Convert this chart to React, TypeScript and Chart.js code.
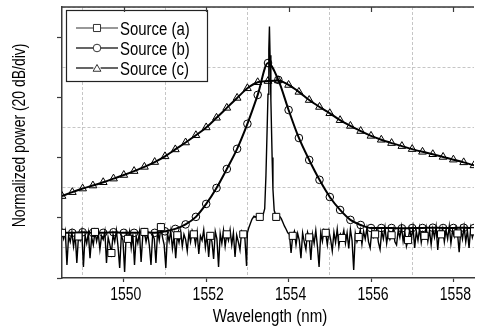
import React, { useEffect, useRef } from 'react';
import { Chart, registerables } from 'chart.js';

Chart.register(...registerables);

// ---------- axes ----------
const X_MIN = 1548.5;
const X_MAX = 1558.5;
const X_TICKS = [1549, 1550, 1551, 1552, 1553, 1554, 1555, 1556, 1557, 1558];
const X_TICK_LABELS = [1550, 1552, 1554, 1556, 1558];
const Y_MIN = 0; // divisions (20 dB/div)
const Y_MAX = 9;
const X_TITLE = 'Wavelength (nm)';
const Y_TITLE = 'Normalized power (20 dB/div)';

const SOURCE_LABELS = ['Source (a)', 'Source (b)', 'Source (c)'];

// ---------- Source (a): measured spectrum ----------
// left part, sampled every 0.04 nm from 1548.50 nm
const A_STEP = 0.04;
const A_LEFT_START = 1548.5;
const A_LEFT = [
  1.50, 1.30, 1.55, 0.43, 1.40, 1.20, 1.52, 1.05, 1.45, 0.50,
  1.38, 1.25, 1.55, 0.37, 1.42, 1.15, 1.50, 0.66, 1.35, 1.10,
  1.53, 1.22, 1.48, 0.95, 1.40, 1.28, 1.55, 0.50, 1.35, 1.12,
  0.83, 1.45, 1.20, 1.58, 1.05, 0.33, 1.42, 1.25, 0.20, 1.50,
  1.30, 1.55, 1.00, 1.45, 0.43, 1.38, 1.15, 1.52, 0.53, 1.40,
  1.53, 1.20, 1.48, 1.08, 0.43, 1.45, 1.30, 0.50, 1.55, 1.25,
  1.69, 1.35, 1.10, 0.33, 1.48, 1.22, 1.57, 0.98, 1.40, 0.66,
  1.42, 1.18, 1.55, 1.05, 1.45, 1.28, 0.90, 1.50, 1.20, 1.58,
  1.45, 1.12, 1.52, 0.80, 1.40, 1.25, 1.60, 1.02, 1.45, 0.70,
  1.40, 1.20, 0.63, 1.55, 1.30, 0.37, 1.48, 1.15, 1.58, 1.05,
  1.45, 1.25, 1.60, 1.10, 1.50, 0.70, 1.42, 1.20, 0.93, 1.55,
  1.45, 1.30, 0.40,
];
// laser line and pedestal
const A_PEAK_WL = [
  1553.0, 1553.03, 1553.07, 1553.11, 1553.16, 1553.2, 1553.24, 1553.3, 1553.34, 1553.38,
  1553.42, 1553.45, 1553.48, 1553.5, 1553.52, 1553.535, 1553.55, 1553.57, 1553.6, 1553.62,
  1553.65, 1553.7, 1553.74, 1553.78, 1553.82, 1553.86, 1553.9, 1553.94, 1553.98,
];
const A_PEAK = [
  1.50, 1.65, 1.80, 1.95, 2.05, 2.02, 2.08, 2.03, 2.06, 2.09,
  2.30, 3.40, 5.00, 6.10, 7.60, 8.35, 7.40, 5.90, 4.00, 2.95,
  2.25, 2.03, 2.08, 2.05, 1.98, 1.85, 1.72, 1.62, 1.50,
];
// right part, sampled every 0.04 nm from 1554.02 nm
const A_RIGHT_START = 1554.02;
const A_RIGHT = [
  1.45, 0.83, 1.40, 1.55, 1.10, 1.48, 1.25, 0.66, 1.50, 1.20,
  0.95, 1.52, 1.35, 0.60, 1.45, 1.15, 1.58, 1.05, 0.37, 1.50,
  1.22, 1.60, 1.50, 1.10, 1.55, 1.28, 0.90, 1.52, 1.18, 1.62,
  1.05, 1.45, 1.33, 1.58, 1.15, 1.50, 0.98, 1.62, 1.25, 0.27,
  1.48, 1.20, 1.36, 1.60, 1.12, 1.55, 1.30, 1.65, 1.20, 1.00,
  1.58, 1.35, 1.45, 1.62, 1.18, 0.95, 1.55, 1.30, 1.68, 1.15,
  1.52, 1.28, 1.42, 1.62, 1.20, 1.10, 1.58, 1.35, 1.70, 1.22,
  1.55, 1.05, 1.26, 1.60, 1.32, 1.68, 1.00, 1.55, 1.25, 1.65,
  1.18, 1.52, 1.40, 1.68, 1.22, 1.58, 1.10, 1.62, 1.35, 1.70,
  0.93, 1.55, 1.45, 1.65, 1.20, 1.60, 1.30, 1.72, 1.15, 1.58,
  1.38, 1.68, 1.48, 0.86, 1.62, 1.30, 1.70, 1.20, 1.58, 1.00,
  1.65, 1.35, 1.55,
];
const A_MARK_START = 1548.5;
const A_MARK_STEP = 0.4;

// ---------- Sources (b) and (c): sampled every 0.25 nm ----------
const BC_WL = [
  1548.5, 1548.75, 1549.0, 1549.25, 1549.5, 1549.75, 1550.0, 1550.25, 1550.5, 1550.75,
  1551.0, 1551.25, 1551.5, 1551.75, 1552.0, 1552.25, 1552.5, 1552.75, 1553.0, 1553.25,
  1553.5, 1553.75, 1554.0, 1554.25, 1554.5, 1554.75, 1555.0, 1555.25, 1555.5, 1555.75,
  1556.0, 1556.25, 1556.5, 1556.75, 1557.0, 1557.25, 1557.5, 1557.75, 1558.0, 1558.25,
  1558.5,
];
const B_POW = [
  1.50, 1.50, 1.52, 1.50, 1.50, 1.52, 1.50, 1.50, 1.52, 1.50,
  1.55, 1.63, 1.78, 2.03, 2.46, 2.99, 3.62, 4.29, 5.12, 6.08,
  7.14, 6.58, 5.58, 4.65, 3.92, 3.26, 2.69, 2.26, 1.93, 1.76,
  1.66, 1.66, 1.66, 1.65, 1.66, 1.66, 1.67, 1.66, 1.66, 1.67,
  1.66,
];
const C_POW = [
  2.72, 2.85, 2.97, 3.07, 3.18, 3.30, 3.42, 3.55, 3.69, 3.85,
  4.04, 4.27, 4.50, 4.74, 5.00, 5.32, 5.65, 5.98, 6.30, 6.50,
  6.54, 6.56, 6.41, 6.18, 5.91, 5.68, 5.47, 5.24, 5.05, 4.88,
  4.72, 4.59, 4.48, 4.38, 4.28, 4.19, 4.11, 4.02, 3.93, 3.84,
  3.74,
];

// ---------- build point tables ----------
const round = (v: number) => Math.round(v * 1000) / 1000;
const aPoints = [
  ...A_LEFT.map((y, i) => ({ x: round(A_LEFT_START + i * A_STEP), y })),
  ...A_PEAK.map((y, i) => ({ x: A_PEAK_WL[i], y })),
  ...A_RIGHT.map((y, i) => ({ x: round(A_RIGHT_START + i * A_STEP), y })),
];
const bPoints = B_POW.map((y, i) => ({ x: BC_WL[i], y }));
const cPoints = C_POW.map((y, i) => ({ x: BC_WL[i], y }));

// ---------- style ----------
const FONT_FAMILY = "'Liberation Sans', Arial, sans-serif";
const FONT_SIZE = 18;
const GRID_COLOR = '#c6c6c6';
const AXIS_COLOR = '#3a3a3a';

const isOdd = (v: number) => Number.isInteger(round(v)) && Math.abs(Math.round(v)) % 2 === 1;
const isEven = (v: number) => Number.isInteger(round(v)) && Math.abs(Math.round(v)) % 2 === 0;
const isMarker = (x: number) => {
  const k = (x - A_MARK_START) / A_MARK_STEP;
  return Math.abs(k - Math.round(k)) < 1e-4;
};

// condensed lettering of the original figure
function drawText(
  ctx: CanvasRenderingContext2D,
  text: string,
  x: number,
  y: number,
  align: CanvasTextAlign,
  scaleX: number,
  rotation = 0,
) {
  ctx.save();
  ctx.translate(x, y);
  if (rotation) ctx.rotate(rotation);
  ctx.scale(scaleX, 1);
  ctx.font = `${FONT_SIZE}px ${FONT_FAMILY}`;
  ctx.fillStyle = '#000';
  ctx.textAlign = align;
  ctx.textBaseline = 'alphabetic';
  ctx.fillText(text, 0, 0);
  ctx.restore();
}

function drawMarker(ctx: CanvasRenderingContext2D, style: string, x: number, y: number, r: number) {
  ctx.beginPath();
  if (style === 'rect') {
    const s = Math.SQRT1_2 * r;
    ctx.rect(x - s, y - s, 2 * s, 2 * s);
  } else if (style === 'circle') {
    ctx.arc(x, y, r, 0, Math.PI * 2);
  } else {
    ctx.moveTo(x, y - r);
    ctx.lineTo(x + Math.sin((2 * Math.PI) / 3) * r, y + r / 2);
    ctx.lineTo(x - Math.sin((2 * Math.PI) / 3) * r, y + r / 2);
    ctx.closePath();
  }
  ctx.fill();
  ctx.stroke();
}

const textPlugin = {
  id: 'axisText',
  afterDraw(chart: any) {
    const ctx: CanvasRenderingContext2D = chart.ctx;
    const xs = chart.scales.x;
    const { left, right, top, bottom } = chart.chartArea;
    X_TICK_LABELS.forEach((v) => {
      drawText(ctx, String(v), xs.getPixelForValue(v) + 2, bottom + 21.5, 'center', 0.78);
    });
    drawText(ctx, X_TITLE, (left + right) / 2 + 2, bottom + 43.5, 'center', 0.84);
    drawText(ctx, Y_TITLE, 25, (top + bottom) / 2 - 7, 'center', 0.775, -Math.PI / 2);
  },
};

const legendPlugin = {
  id: 'boxLegend',
  afterDatasetsDraw(chart: any) {
    const ctx: CanvasRenderingContext2D = chart.ctx;
    const { left, top } = chart.chartArea;
    const x0 = left + 4;
    const y0 = top + 3;
    const w = 141;
    const h = 71;
    ctx.save();
    ctx.fillStyle = '#ffffff';
    ctx.fillRect(x0, y0, w, h);
    ctx.strokeStyle = '#222';
    ctx.lineWidth = 1.2;
    ctx.strokeRect(x0 + 0.5, y0 + 0.5, w, h);
    chart.data.datasets.forEach((ds: any, i: number) => {
      const cy = y0 + 18 + i * 20;
      const r = ds.legendRadius;
      ctx.strokeStyle = '#333';
      ctx.lineWidth = ds.legendLineWidth;
      ctx.beginPath();
      ctx.moveTo(x0 + 10, cy);
      ctx.lineTo(x0 + 31 - r * 0.8, cy);
      ctx.moveTo(x0 + 31 + r * 0.8, cy);
      ctx.lineTo(x0 + 52, cy);
      ctx.stroke();
      ctx.lineWidth = 1;
      ctx.fillStyle = '#fff';
      drawMarker(ctx, ds.pointStyle, x0 + 31, cy + (ds.pointStyle === 'triangle' ? 1 : 0), r);
      drawText(ctx, ds.label, x0 + 54, cy + 7, 'left', 0.83);
    });
    ctx.restore();
  },
};

const framePlugin = {
  id: 'frame',
  afterDraw(chart: any) {
    const ctx: CanvasRenderingContext2D = chart.ctx;
    const { left, right, top } = chart.chartArea;
    const xs = chart.scales.x;
    ctx.save();
    ctx.strokeStyle = AXIS_COLOR;
    ctx.lineWidth = 1.5;
    ctx.beginPath();
    ctx.moveTo(left, top);
    ctx.lineTo(right, top);
    ctx.stroke();
    ctx.lineWidth = 1.2;
    ctx.beginPath();
    X_TICK_LABELS.forEach((v) => {
      const px = Math.round(xs.getPixelForValue(v)) + 0.5;
      ctx.moveTo(px, top);
      ctx.lineTo(px, top + 5);
    });
    ctx.stroke();
    ctx.restore();
  },
};

export default function App() {
  const ref = useRef<HTMLCanvasElement>(null);
  useEffect(() => {
    document.body.style.margin = '0';
    const chart = new Chart(ref.current as HTMLCanvasElement, {
      type: 'line',
      data: {
        datasets: [
          {
            label: SOURCE_LABELS[0],
            data: aPoints,
            borderColor: '#000',
            borderWidth: 1.4,
            tension: 0,
            pointStyle: 'rect',
            pointRadius: (c: any) => (c.raw && isMarker(c.raw.x) ? 5 : 0),
            pointBorderWidth: 1,
            pointBorderColor: '#000',
            pointBackgroundColor: '#fff',
            legendRadius: 5,
            legendLineWidth: 1.2,
          } as any,
          {
            label: SOURCE_LABELS[1],
            data: bPoints,
            borderColor: '#000',
            borderWidth: 2,
            cubicInterpolationMode: 'monotone',
            pointStyle: 'circle',
            pointRadius: 3.8,
            pointBorderWidth: 1,
            pointBorderColor: '#000',
            pointBackgroundColor: 'rgba(255,255,255,0)',
            legendRadius: 3.8,
            legendLineWidth: 1.6,
          } as any,
          {
            label: SOURCE_LABELS[2],
            data: cPoints,
            borderColor: '#000',
            borderWidth: 2,
            cubicInterpolationMode: 'monotone',
            pointStyle: 'triangle',
            pointRadius: 4.5,
            pointBorderWidth: 1,
            pointBorderColor: '#000',
            pointBackgroundColor: 'rgba(255,255,255,0)',
            legendRadius: 4.5,
            legendLineWidth: 1.6,
          } as any,
        ],
      },
      options: {
        animation: false,
        responsive: false,
        maintainAspectRatio: false,
        parsing: false as any,
        layout: { padding: { top: 7, right: 0, left: 0, bottom: 0 } },
        plugins: {
          legend: { display: false },
          tooltip: { enabled: false },
        },
        scales: {
          x: {
            type: 'linear',
            min: X_MIN,
            max: X_MAX,
            afterBuildTicks: (s: any) => {
              s.ticks = X_TICKS.map((value) => ({ value }));
            },
            ticks: { display: false, autoSkip: false },
            grid: {
              color: (c: any) => (c.tick && isOdd(c.tick.value) ? GRID_COLOR : 'rgba(0,0,0,0)'),
              lineWidth: 1,
              tickLength: 4,
              tickWidth: 1.2,
              tickColor: (c: any) => (c.tick && isEven(c.tick.value) ? AXIS_COLOR : 'rgba(0,0,0,0)'),
            },
            border: { display: true, color: AXIS_COLOR, width: 1.5, dash: [3, 2] },
            afterFit: (s: any) => {
              s.height = 54;
            },
          },
          y: {
            type: 'linear',
            min: Y_MIN,
            max: Y_MAX,
            ticks: { stepSize: 1, display: false },
            grid: {
              color: (c: any) => (c.tick && isOdd(c.tick.value) ? GRID_COLOR : 'rgba(0,0,0,0)'),
              lineWidth: 1,
              tickLength: 5,
              tickWidth: 1.2,
              tickColor: (c: any) => (c.tick && isEven(c.tick.value) ? AXIS_COLOR : 'rgba(0,0,0,0)'),
            },
            border: { display: true, color: AXIS_COLOR, width: 1.5, dash: [3, 2] },
            afterFit: (s: any) => {
              s.width = 62;
            },
          },
        },
      },
      plugins: [legendPlugin, framePlugin, textPlugin],
    } as any);
    return () => chart.destroy();
  }, []);
  return (
    <div style={{ width: 480, height: 332 }}>
      <canvas ref={ref} width={480} height={332} style={{ display: 'block' }} />
    </div>
  );
}
